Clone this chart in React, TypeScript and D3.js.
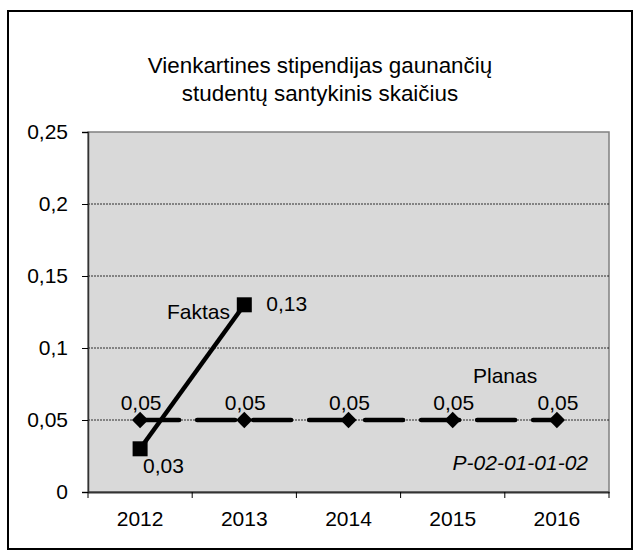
import React, { useEffect, useRef } from "react";
import * as d3 from "d3";

const years = ["2012", "2013", "2014", "2015", "2016"];
const faktas = [0.03, 0.13];
const planas = [0.05, 0.05, 0.05, 0.05, 0.05];
const yTicks = [0, 0.05, 0.1, 0.15, 0.2, 0.25];
const titleLines = ["Vienkartines stipendijas gaunančių", "studentų santykinis skaičius"];

const fmt = (v: number) => String(v).replace(".", ",");

export default function App() {
  const ref = useRef<SVGSVGElement>(null);

  useEffect(() => {
    const svg = d3.select(ref.current);
    svg.selectAll("*").remove();

    const margin = { left: 88, top: 132, right: 609, bottom: 492 };
    const font = "Liberation Sans, Arial, sans-serif";
    const fs = "21px";

    // outer frame
    svg.append("rect")
      .attr("x", 8).attr("y", 11).attr("width", 624).attr("height", 538)
      .attr("fill", "#fff").attr("stroke", "#000").attr("stroke-width", 2);

    // title
    svg.append("g").selectAll("text").data(titleLines).join("text")
      .attr("x", 320).attr("y", (d, i) => 73 + i * 28)
      .attr("text-anchor", "middle")
      .style("font-family", font).style("font-size", "22.4px")
      .text((d) => d);

    const x = d3.scaleBand().domain(years).range([margin.left, margin.right]);
    const y = d3.scaleLinear().domain([0, 0.25]).range([margin.bottom, margin.top]);
    const cx = (d: string) => (x(d) as number) + x.bandwidth() / 2;

    // plot area
    svg.append("rect")
      .attr("x", margin.left).attr("y", margin.top)
      .attr("width", margin.right - margin.left).attr("height", margin.bottom - margin.top)
      .attr("fill", "#d9d9d9").attr("stroke", "#808080").attr("stroke-width", 1.5);

    // gridlines
    svg.append("g").selectAll("line").data(yTicks.filter((t) => t > 0 && t < 0.25)).join("line")
      .attr("x1", margin.left).attr("x2", margin.right)
      .attr("y1", (d) => y(d)).attr("y2", (d) => y(d))
      .attr("stroke", "#000").attr("stroke-width", 0.8).attr("stroke-dasharray", "2,1");

    // y axis
    const yAxis = svg.append("g")
      .attr("transform", `translate(${margin.left},0)`)
      .call(d3.axisLeft(y).tickValues(yTicks).tickFormat((d) => fmt(+d)).tickSize(6).tickPadding(14));
    yAxis.select(".domain").attr("stroke", "#333").attr("stroke-width", 1.5);
    yAxis.selectAll(".tick line").attr("stroke", "#000");
    yAxis.selectAll("text").style("font-family", font).style("font-size", fs).attr("fill", "#000");

    // x axis
    const xAxis = svg.append("g")
      .attr("transform", `translate(0,${margin.bottom})`)
      .call(d3.axisBottom(x).tickSize(0).tickPadding(19));
    xAxis.select(".domain").attr("stroke", "#333").attr("stroke-width", 2);
    xAxis.selectAll("text").style("font-family", font).style("font-size", fs).attr("fill", "#000");
    svg.append("g").selectAll("line").data([...years.map((d) => x(d) as number), margin.right]).join("line")
      .attr("x1", (d) => d).attr("x2", (d) => d)
      .attr("y1", margin.bottom).attr("y2", margin.bottom + 6)
      .attr("stroke", "#000");

    // planas line
    const planLine = d3.line<number>().x((d, i) => cx(years[i])).y((d) => y(d));
    svg.append("path").datum(planas)
      .attr("d", planLine)
      .attr("fill", "none").attr("stroke", "#000").attr("stroke-width", 4.5)
      .attr("stroke-linecap", "round")
      .attr("stroke-dasharray", "38,18").attr("stroke-dashoffset", -1);
    svg.append("g").selectAll("path").data(planas).join("path")
      .attr("d", d3.symbol(d3.symbolDiamond2, 170))
      .attr("transform", (d, i) => `translate(${cx(years[i])},${y(d)})`)
      .attr("fill", "#000");
    svg.append("g").selectAll("text").data(planas).join("text")
      .attr("x", (d, i) => cx(years[i]) + 1).attr("y", (d) => y(d) - 10)
      .attr("text-anchor", "middle")
      .style("font-family", font).style("font-size", fs)
      .text((d) => fmt(d));

    // faktas line
    const factLine = d3.line<number>().x((d, i) => cx(years[i])).y((d) => y(d));
    svg.append("path").datum(faktas)
      .attr("d", factLine)
      .attr("fill", "none").attr("stroke", "#000").attr("stroke-width", 4.5);
    svg.append("g").selectAll("rect").data(faktas).join("rect")
      .attr("x", (d, i) => cx(years[i]) - 7.5).attr("y", (d) => y(d) - 7.5)
      .attr("width", 15).attr("height", 15).attr("fill", "#000");
    svg.append("text")
      .attr("x", cx(years[0]) + 3).attr("y", y(faktas[0]) + 24)
      .style("font-family", font).style("font-size", fs)
      .text(fmt(faktas[0]));
    svg.append("text")
      .attr("x", cx(years[1]) + 22).attr("y", y(faktas[1]) + 6)
      .style("font-family", font).style("font-size", fs)
      .text(fmt(faktas[1]));

    // series labels
    svg.append("text").attr("x", 167).attr("y", 319)
      .style("font-family", font).style("font-size", fs).text("Faktas");
    svg.append("text").attr("x", 473).attr("y", 383)
      .style("font-family", font).style("font-size", fs).text("Planas");
    svg.append("text").attr("x", 588).attr("y", 470).attr("text-anchor", "end")
      .style("font-family", font).style("font-size", fs).style("font-style", "italic")
      .text("P-02-01-01-02");
  }, []);

  return <svg ref={ref} width={640} height={559} style={{ position: "absolute", left: 0, top: 0 }} />;
}
